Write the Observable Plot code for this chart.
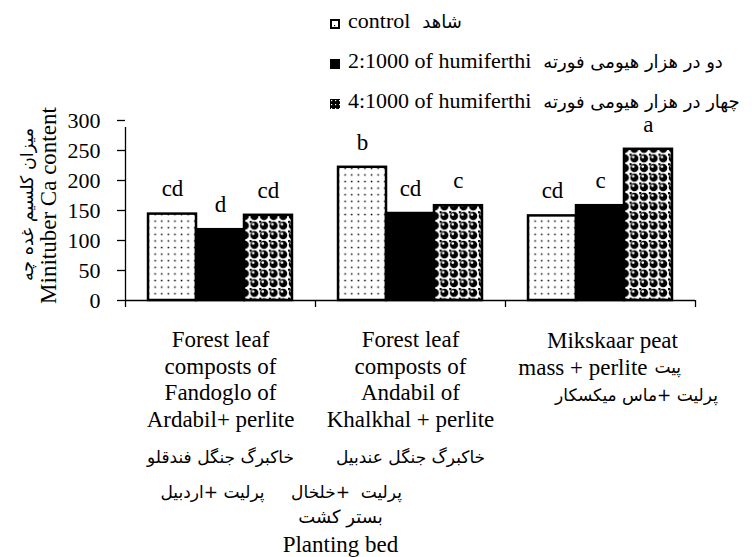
<!DOCTYPE html>
<html><head><meta charset="utf-8">
<script src="https://cdn.jsdelivr.net/npm/d3@7"></script>
<script src="https://cdn.jsdelivr.net/npm/@observablehq/plot@0.6"></script>
<style>
body{margin:0;background:#fff;}
#wrap{position:relative;width:752px;height:557px;overflow:hidden;background:#fff;}
#legend{position:absolute;left:330px;top:1px;font-family:"Liberation Serif",serif;font-size:22px;color:#000;}
.row{height:40px;display:flex;align-items:center;white-space:nowrap;}
.row svg{margin-right:8px;position:relative;top:3px;}
.fa{font-family:"DejaVu Sans";font-size:18px;margin-left:12px;}
</style></head><body>
<div id="wrap"><div id="chart"></div><div id="legend"></div></div>
<script>
const groups = ["Fandoglo", "Andabil", "Mikskaar"];
const series = ["control", "2:1000", "4:1000"];
const controlValues = [144, 222, 141];
const humi2Values = [118, 145, 158];
const humi4Values = [142, 158, 252];
const controlLetters = ["cd", "b", "cd"];
const humi2Letters = ["d", "cd", "c"];
const humi4Letters = ["cd", "c", "a"];
const groupLabelsEn = [
  "Forest leaf\ncomposts of\nFandoglo of\nArdabil+ perlite",
  "Forest leaf\ncomposts of\nAndabil of\nKhalkhal + perlite"
];
const groupLabelsFa1 = ["خاکبرگ جنگل فندقلو", "خاکبرگ جنگل عندبیل"];
const groupLabelsFa2 = ["پرلیت +اردبیل", "پرلیت  +خلخال"];
const mikskaarLine1 = "Mikskaar peat";
const mikskaarLine2 = "mass + perlite";
const mikskaarLine2Fa = "پیت";
const mikskaarLine3Fa = "پرلیت +ماس میکسکار";
const legendEn = ["control", "2:1000 of humiferthi", "4:1000 of humiferthi"];
const legendFa = ["شاهد", "دو در هزار هیومی فورته", "چهار در هزار هیومی فورته"];
const yTicks = [0, 50, 100, 150, 200, 250, 300];
const yLabelEn = "Minituber Ca content";
const yLabelFa = "میزان کلسیم غده چه";
const xTitleFa = "بستر کشت";
const xTitleEn = "Planting bed";

const valuesBySeries = [controlValues, humi2Values, humi4Values];
const lettersBySeries = [controlLetters, humi2Letters, humi4Letters];
const data = [];
groups.forEach((g, gi) => series.forEach((s, si) => data.push({group: g, series: s, value: valuesBySeries[si][gi], letter: lettersBySeries[si][gi]})));

const W = 752, H = 557, mL = 125, mR = 57, mT = 120, mB = 257;
const pOuter = 0.48;
const facetW = (W - mL - mR) / groups.length;
const step = facetW / (series.length + 2 * pOuter);
const edgeOffset = pOuter * step + step / 2;
const serif = "Liberation Serif";
const fa = "DejaVu Sans";
const ink = {stroke: "#000", strokeWidth: 1.3};

const chart = Plot.plot({
  width: W, height: H,
  marginLeft: mL, marginRight: mR, marginTop: mT, marginBottom: mB,
  style: {fontFamily: serif, color: "#000", background: "#fff"},
  fx: {domain: groups, axis: null, padding: 0, round: false},
  x: {domain: series, axis: null, paddingInner: 0, paddingOuter: pOuter, round: false},
  y: {domain: [0, yTicks[yTicks.length - 1]], axis: null},
  color: {type: "ordinal", domain: series, range: ["url(#pDots)", "#000", "url(#pBalls)"]},
  marks: [
    Plot.barY(data, {fx: "group", x: "series", y: "value", fill: "series", stroke: "#000", strokeWidth: 2.5}),
    Plot.ruleY([0], ink),
    Plot.axisY({ticks: yTicks, tickSize: 8, tickPadding: 17, fontSize: 22, fontFamily: serif, label: null, strokeWidth: 1.3}),
    Plot.ruleX([groups[0]], {fx: d => d, x: () => series[0], y1: () => 0, y2: () => yTicks[yTicks.length - 1], dx: -edgeOffset, insetBottom: -7, ...ink}),
    Plot.ruleX(groups, {fx: d => d, x: () => series[0], y1: () => 0, y2: () => 0, dx: -edgeOffset, insetBottom: -7, ...ink}),
    Plot.ruleX([groups[groups.length - 1]], {fx: d => d, x: () => series[series.length - 1], y1: () => 0, y2: () => 0, dx: edgeOffset, insetBottom: -7, ...ink}),
    Plot.text(data, {fx: "group", x: "series", y: "value", text: "letter", dy: -25, lineAnchor: "middle", fontSize: 23, fontFamily: serif}),
    // group category labels (groups 1 and 2)
    Plot.text(groupLabelsEn, {fx: (d, i) => groups[i], frameAnchor: "bottom", lineAnchor: "top", dy: 27, lineHeight: 1.17, fontSize: 23, fontFamily: serif}),
    Plot.text(groupLabelsFa1, {fx: (d, i) => groups[i], frameAnchor: "bottom", lineAnchor: "middle", dy: 157, fontSize: 17, fontFamily: fa}),
    Plot.text([groupLabelsFa2[0]], {fx: () => groups[0], frameAnchor: "bottom", lineAnchor: "middle", dy: 192, dx: -8, fontSize: 17, fontFamily: fa}),
    Plot.text([groupLabelsFa2[1]], {fx: () => groups[1], frameAnchor: "bottom", lineAnchor: "middle", dy: 192, dx: -64, fontSize: 17, fontFamily: fa}),
    // group 3 label
    Plot.text([mikskaarLine1], {fx: () => groups[2], frameAnchor: "bottom", lineAnchor: "middle", dy: 40, dx: 12, fontSize: 23, fontFamily: serif}),
    Plot.text([mikskaarLine2], {fx: () => groups[2], frameAnchor: "bottom", lineAnchor: "middle", textAnchor: "end", dy: 67, dx: 47, fontSize: 23, fontFamily: serif}),
    Plot.text([mikskaarLine2Fa], {fx: () => groups[2], frameAnchor: "bottom", lineAnchor: "middle", textAnchor: "start", dy: 67, dx: 54, fontSize: 17, fontFamily: fa}),
    Plot.text([mikskaarLine3Fa], {fx: () => groups[2], frameAnchor: "bottom", lineAnchor: "middle", dy: 95, dx: 36, fontSize: 17, fontFamily: fa}),
    // axis titles
    Plot.text([xTitleFa], {fx: () => groups[1], frameAnchor: "bottom", lineAnchor: "middle", dx: -70, dy: 217, fontSize: 18, fontFamily: fa}),
    Plot.text([xTitleEn], {fx: () => groups[1], frameAnchor: "bottom", lineAnchor: "middle", dx: -70, dy: 244, fontSize: 23, fontFamily: serif}),
    Plot.text([yLabelEn], {fx: () => groups[0], frameAnchor: "left", textAnchor: "middle", rotate: -90, lineAnchor: "middle", dx: -77, dy: -5, fontSize: 23, fontFamily: serif}),
    Plot.text([yLabelFa], {fx: () => groups[0], frameAnchor: "left", textAnchor: "middle", rotate: -90, lineAnchor: "middle", dx: -98, dy: -6, fontSize: 17.5, fontFamily: fa})
  ]
});

const ns = "http://www.w3.org/2000/svg";
const defsHTML = `
<pattern id="pDots" width="6.6" height="6.6" patternUnits="userSpaceOnUse">
  <rect width="6.6" height="6.6" fill="#fff"/>
  <rect x="2.6" y="2.6" width="1.5" height="1.5" fill="#000"/>
</pattern>
<pattern id="pBalls" width="9.6" height="9.6" patternUnits="userSpaceOnUse">
  <rect width="9.6" height="9.6" fill="#fff"/>
  <rect x="0" y="0" width="2.2" height="2.2" fill="#000"/>
  <circle cx="4.8" cy="4.8" r="4.1" fill="#000"/>
  <circle cx="3.6" cy="3.4" r="1.3" fill="#fff"/>
</pattern>
<pattern id="pLeg4" width="4" height="4" patternUnits="userSpaceOnUse">
  <rect width="4" height="4" fill="#000"/>
  <rect x="1" y="1" width="1.2" height="1.2" fill="#fff"/>
</pattern>`;
const defs = document.createElementNS(ns, "defs");
defs.innerHTML = defsHTML;
const svgRoot = chart.tagName.toLowerCase() === "svg" ? chart : chart.querySelector("svg");
svgRoot.insertBefore(defs, svgRoot.firstChild);
document.getElementById("chart").appendChild(chart);

const swatches = [
  `<svg width="10" height="10"><rect x="1" y="1" width="8" height="8" fill="#fff" stroke="#000" stroke-width="2"/><rect x="4" y="6" width="1.2" height="1.2" fill="#000"/></svg>`,
  `<svg width="10" height="10"><rect x="0" y="0" width="10" height="10" fill="#000"/></svg>`,
  `<svg width="10" height="10"><rect x="0" y="0" width="10" height="10" fill="url(#pLeg4)"/></svg>`
];
const legend = document.getElementById("legend");
series.forEach((s, i) => {
  const row = document.createElement("div");
  row.className = "row";
  row.innerHTML = swatches[i] + `<span>${legendEn[i]}</span><span class="fa">${legendFa[i]}</span>`;
  legend.appendChild(row);
});
</script>
</body></html>
